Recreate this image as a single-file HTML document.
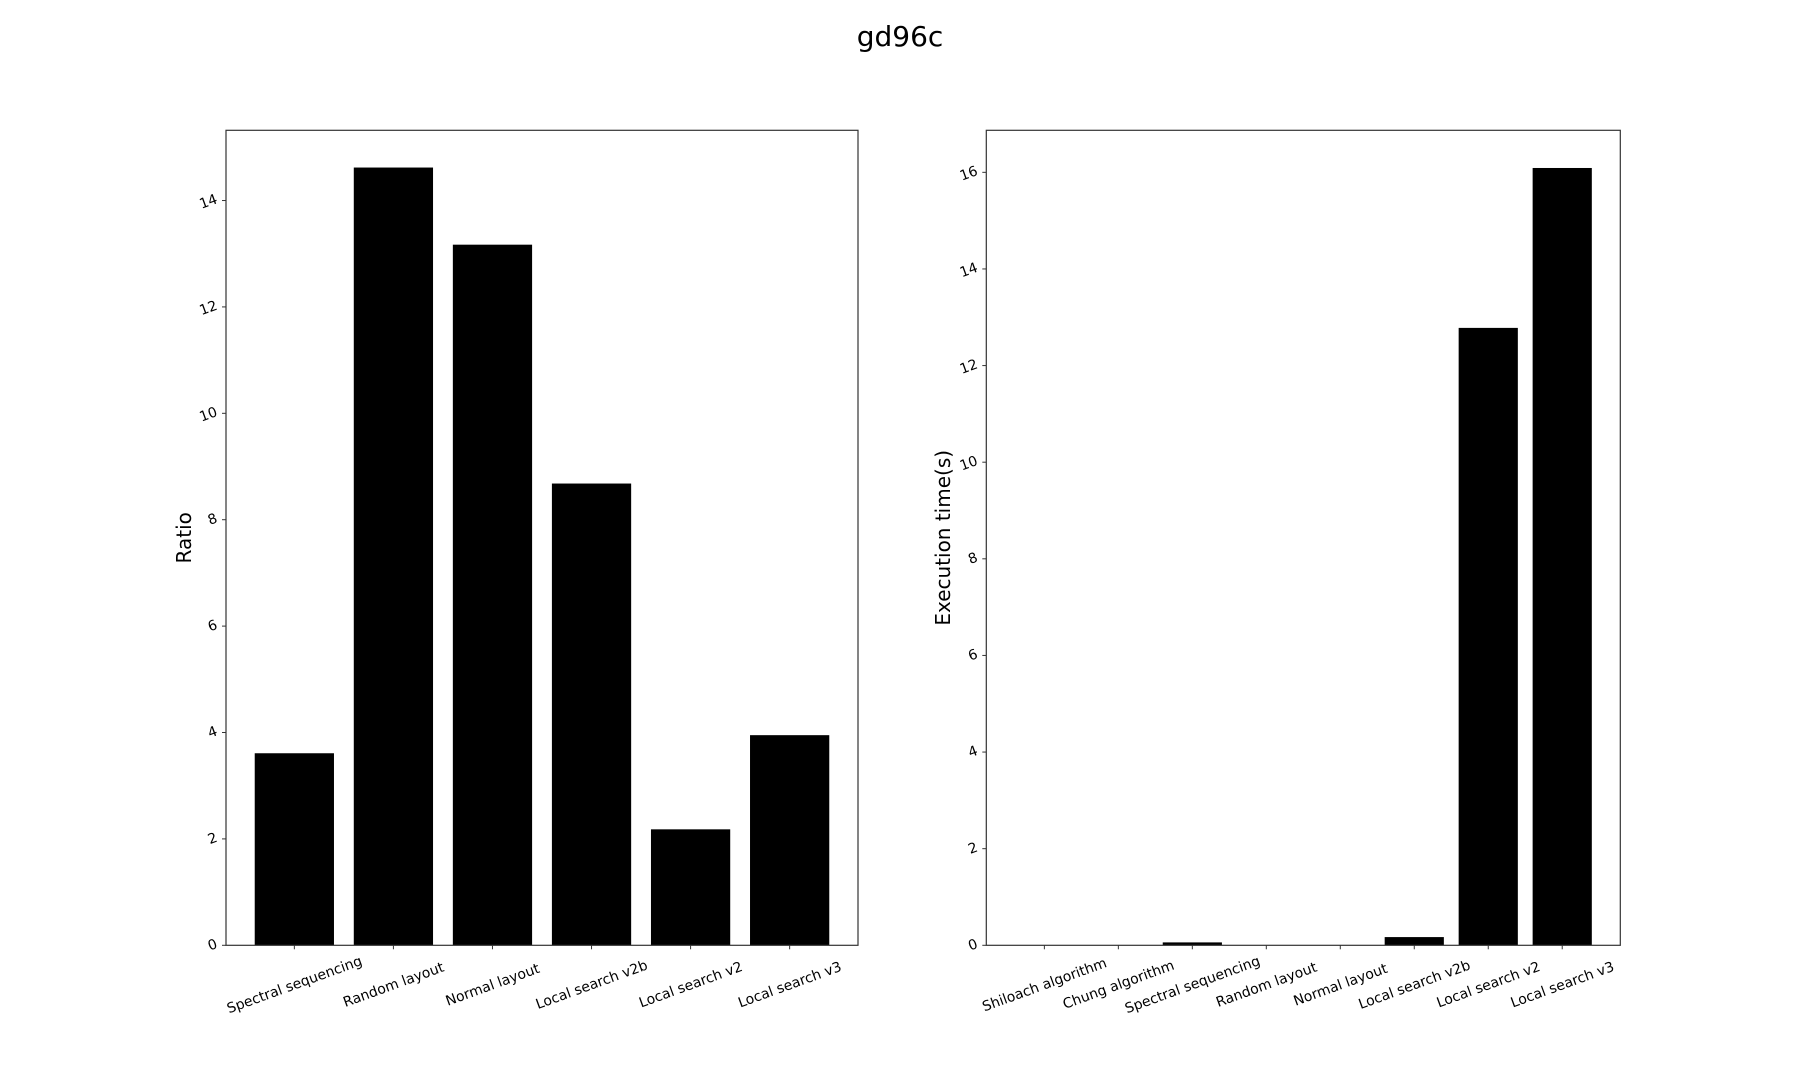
<!DOCTYPE html>
<html><head><meta charset="utf-8"><style>
html,body{margin:0;padding:0;background:#fff;}
svg{display:block;font-family:"DejaVu Sans","Liberation Sans",sans-serif;}
</style></head><body>
<svg id="fig" width="1800" height="1080" viewBox="0 0 1800 1080">
<rect width="1800" height="1080" fill="#fff"/>
<text x="900" y="46" font-size="28" text-anchor="middle">gd96c</text>
<g id="left"></g>
<g id="right"></g>
</svg>
<script>
const ratioCategories = ["Spectral sequencing","Random layout","Normal layout","Local search v2b","Local search v2","Local search v3"];
const ratioValues = [3.61, 14.62, 13.17, 8.68, 2.18, 3.95];
const ratioTicks = [0,2,4,6,8,10,12,14];
const timeCategories = ["Shiloach algorithm","Chung algorithm","Spectral sequencing","Random layout","Normal layout","Local search v2b","Local search v2","Local search v3"];
const timeValues = [0.003, 0.003, 0.06, 0.003, 0.003, 0.17, 12.78, 16.09];
const timeTicks = [0,2,4,6,8,10,12,14,16];

const NS="http://www.w3.org/2000/svg";
function mk(tag, attrs, parent){const e=document.createElementNS(NS,tag);for(const k in attrs)e.setAttribute(k,attrs[k]);parent.appendChild(e);return e;}

function drawChart(g, cfg){
  const {x0,x1,y0,y1,ymax,cats,vals,ticks,label,labelX,prefix,pad}=cfg;
  const n=cats.length;
  const xmin=-pad, xmaxv=n-1+pad;
  const xs=v=>x0+(v-xmin)/(xmaxv-xmin)*(x1-x0);
  const ys=v=>y0-(v/ymax)*(y0-y1);
  vals.forEach((v,i)=>{
    const r=mk('rect',{x:xs(i-0.4),y:ys(v),width:xs(i+0.4)-xs(i-0.4),height:y0-ys(v),fill:'#000'},g);
    
    
  });
  const frame=mk('rect',{x:x0,y:y1,width:x1-x0,height:y0-y1,fill:'none',stroke:'#333','stroke-width':1.2},g);
  
  
  ticks.forEach(t=>{
    const y=ys(t);
    mk('line',{x1:x0-4,x2:x0,y1:y,y2:y,stroke:'#333','stroke-width':1},g);
    const tx=mk('text',{x:x0-9,y:y+5,'font-size':14,'text-anchor':'end',transform:`rotate(-20 ${x0-16} ${y})`},g);
    tx.textContent=t;
    
    
  });
  cats.forEach((c,i)=>{
    const x=xs(i);
    mk('line',{x1:x,x2:x,y1:y0,y2:y0+4,stroke:'#333','stroke-width':1},g);
    const tx=mk('text',{x:x,y:y0+44,'font-size':14,'text-anchor':'middle',transform:`rotate(-20 ${x} ${y0+39})`},g);
    tx.textContent=c;
    
    
  });
  const cy=(y0+y1)/2;
  const yl=mk('text',{x:labelX,y:cy,'font-size':20,'text-anchor':'middle',transform:`rotate(-90 ${labelX} ${cy})`},g);
  yl.textContent=label;
  
  
}
drawChart(document.getElementById('left'),{x0:226,x1:858,y0:945.3,y1:130.3,ymax:15.32,cats:ratioCategories,vals:ratioValues,ticks:ratioTicks,label:'Ratio',labelX:191,prefix:'ratio',pad:0.69});
drawChart(document.getElementById('right'),{x0:986.3,x1:1620.3,y0:945.3,y1:130.3,ymax:16.87,cats:timeCategories,vals:timeValues,ticks:timeTicks,label:'Execution time(s)',labelX:950,prefix:'time',pad:0.785});
</script>
</body></html>
